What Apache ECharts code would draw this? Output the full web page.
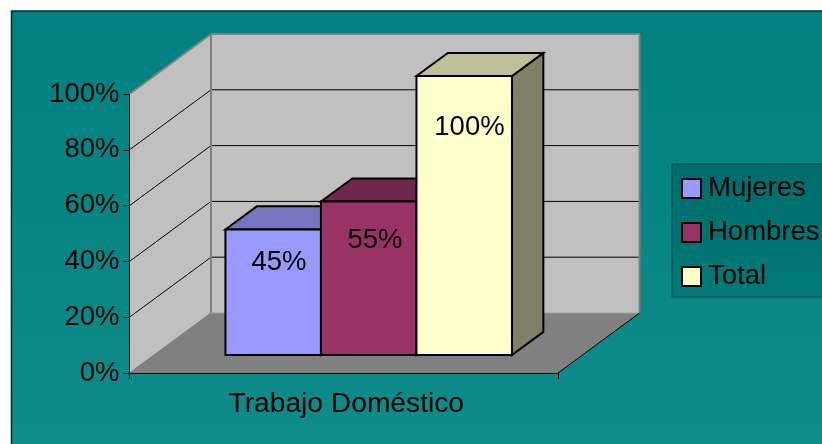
<!DOCTYPE html>
<html>
<head>
<meta charset="utf-8">
<style>html,body{margin:0;padding:0;background:#fff;overflow:hidden}#c{width:822px;height:444px}</style>
<script src="https://cdn.jsdelivr.net/npm/echarts@6/dist/echarts.min.js"></script>
</head>
<body>
<div id="c"></div>
<script>
const categories = ['Trabajo Doméstico'];
const mujeres = [45];
const hombres = [55];
const total = [100];
const yTicks = [0, 20, 40, 60, 80, 100];
const seriesNames = ['Mujeres', 'Hombres', 'Total'];

const FONT = 'Liberation Sans, Arial, sans-serif';
const wallDX = 81.5, wallDY = 60;
const fronts = 0.3, barDepth = 0.385, barShare = 0.2229;
const labelOffsets = [[53.5, 33], [54, 39], [53, 51]];
const looks = [
  {front: '#9999FF', top: '#7676C0', side: '#66669A'},
  {front: '#993366', top: '#72264C', side: '#4D1A33'},
  {front: '#FFFFCC', top: '#BFBF99', side: '#808066'}
];

function renderWalls(params, api) {
  const c0 = api.coord([0, 0]), c1 = api.coord([0, 100]);
  const band = api.size([1, 0])[0];
  const L = c0[0] - band / 2, R = c0[0] + band / 2, B = c0[1], T = c1[1];
  const poly = (pts, fill, stroke, w) => ({type: 'polygon', shape: {points: pts},
    style: {fill: fill, stroke: stroke || null, lineWidth: w || 0}});
  const line = (a, b, color, w) => ({type: 'line', shape: {x1: a[0], y1: a[1], x2: b[0], y2: b[1]},
    style: {stroke: color, lineWidth: w, fill: null}});
  const children = [
    poly([[L, T], [L + wallDX, T - wallDY], [L + wallDX, B - wallDY], [L, B]], '#C0C0C0'),
    poly([[L + wallDX, T - wallDY], [R + wallDX, T - wallDY], [R + wallDX, B - wallDY], [L + wallDX, B - wallDY]], '#C0C0C0'),
    poly([[L, B], [L + wallDX, B - wallDY], [R + wallDX, B - wallDY], [R, B]], '#808080')
  ];
  yTicks.forEach(v => {
    if (v === 0 || v === 100) return;
    const y = api.coord([0, v])[1];
    children.push(line([L, y], [L + wallDX, y - wallDY], '#000', 1));
    children.push(line([L + wallDX, y - wallDY], [R + wallDX, y - wallDY], '#000', 1));
  });
  children.push(line([L, T], [L + wallDX, T - wallDY], '#808080', 2));
  children.push(line([L + wallDX, T - wallDY], [R + wallDX, T - wallDY], '#808080', 2));
  children.push(line([R + wallDX, T - wallDY], [R + wallDX, B - wallDY], '#808080', 2));
  children.push(line([L + wallDX, T - wallDY], [L + wallDX, B - wallDY], '#808080', 2));
  children.push(line([L + wallDX, B - wallDY], [R + wallDX, B - wallDY], '#A0A0A0', 1));
  children.push(line([L, B], [L + wallDX, B - wallDY], '#808080', 1));
  children.push(line([R, B], [R + wallDX, B - wallDY], '#000', 1));
  return {type: 'group', children: children};
}

function makeRenderBar(i) {
  return function (params, api) {
    const v = api.value(1);
    const c = api.coord([0, v]), c0 = api.coord([0, 0]);
    const band = api.size([1, 0])[0];
    const w = band * barShare;
    const fx = wallDX * fronts, fy = wallDY * fronts;
    const dx = wallDX * barDepth, dy = wallDY * barDepth;
    const x0 = c[0] + fx + (i - 1.5) * w + 0.5, x1 = x0 + w;
    const yT = c[1] - fy, yB = c0[1] - fy;
    const look = looks[i];
    const s = {stroke: '#000', lineWidth: 2, lineJoin: 'miter'};
    const p = (pts, fill) => ({type: 'polygon', shape: {points: pts}, style: Object.assign({fill: fill}, s)});
    return {type: 'group', children: [
      p([[x1, yT], [x1 + dx, yT - dy], [x1 + dx, yB - dy], [x1, yB]], look.side),
      p([[x0, yT], [x0 + dx, yT - dy], [x1 + dx, yT - dy], [x1, yT]], look.top),
      p([[x0, yT], [x1, yT], [x1, yB], [x0, yB]], look.front),
      {type: 'text', style: {text: v + '%', x: x0 + labelOffsets[i][0], y: yT + labelOffsets[i][1],
        fill: '#000', font: '27.5px ' + FONT, align: 'center', verticalAlign: 'middle'}}
    ]};
  };
}

const values = [mujeres, hombres, total];
const chart = echarts.init(document.getElementById('c'), null, {renderer: 'canvas'});
chart.setOption({
  animation: false,
  backgroundColor: '#fff',
  graphic: {
    z: -1,
    elements: [{
      type: 'rect', z: -1, silent: true,
      shape: {x: 11.5, y: 11, width: 830, height: 450},
      style: {
        fill: new echarts.graphic.LinearGradient(0, 0, 0, 1, [
          {offset: 0, color: '#008080'}, {offset: 1, color: '#108C89'}
        ]),
        stroke: '#003838', lineWidth: 1.6
      }
    }]
  },
  grid: {left: 129.5, top: 94, width: 428.5, height: 279, containLabel: false},
  xAxis: {
    type: 'category', data: categories, z: 10,
    axisLine: {lineStyle: {color: '#000', width: 1}},
    axisTick: {show: true, length: 6, lineStyle: {color: '#000'}},
    axisLabel: {color: '#000', fontFamily: FONT, fontSize: 28.2, margin: 17, padding: [0, 0, 0, 5]},
    splitLine: {show: false}
  },
  yAxis: {
    type: 'value', min: 0, max: 100, interval: 20, z: 10,
    axisLine: {show: true, lineStyle: {color: '#000', width: 1}},
    axisTick: {show: true, length: 6, lineStyle: {color: '#000'}},
    axisLabel: {color: '#000', fontFamily: FONT, fontSize: 27.5, margin: 10, padding: [2, 0, 0, 0], formatter: '{value}%'},
    splitLine: {show: false}
  },
  legend: {
    data: seriesNames,
    orient: 'vertical', left: 672, top: 164,
    padding: [10.5, 40, 6.5, 9],
    itemGap: 16, itemWidth: 19, itemHeight: 19,
    icon: 'rect',
    backgroundColor: new echarts.graphic.LinearGradient(0, 0, 0, 1, [
      {offset: 0, color: '#006C6C'}, {offset: 1, color: '#007A78'}
    ]),
    borderColor: '#004848', borderWidth: 1,
    textStyle: {color: '#000', fontFamily: FONT, fontSize: 27.5, padding: [0, 0, 0, 2]},
    itemStyle: {borderColor: '#000', borderWidth: 2}
  },
  tooltip: {show: false},
  series: [
    {type: 'custom', name: 'Paredes', z: 2, clip: false, silent: true, renderItem: renderWalls,
     encode: {x: 0, y: 1}, data: [[0, 100]]}
  ].concat(seriesNames.map((name, i) => ({
    type: 'custom', name: name, z: 3 + i, clip: false,
    itemStyle: {color: looks[i].front},
    renderItem: makeRenderBar(i),
    encode: {x: 0, y: 1},
    data: values[i].map((v, k) => [k, v])
  })))
});
</script>
</body>
</html>
